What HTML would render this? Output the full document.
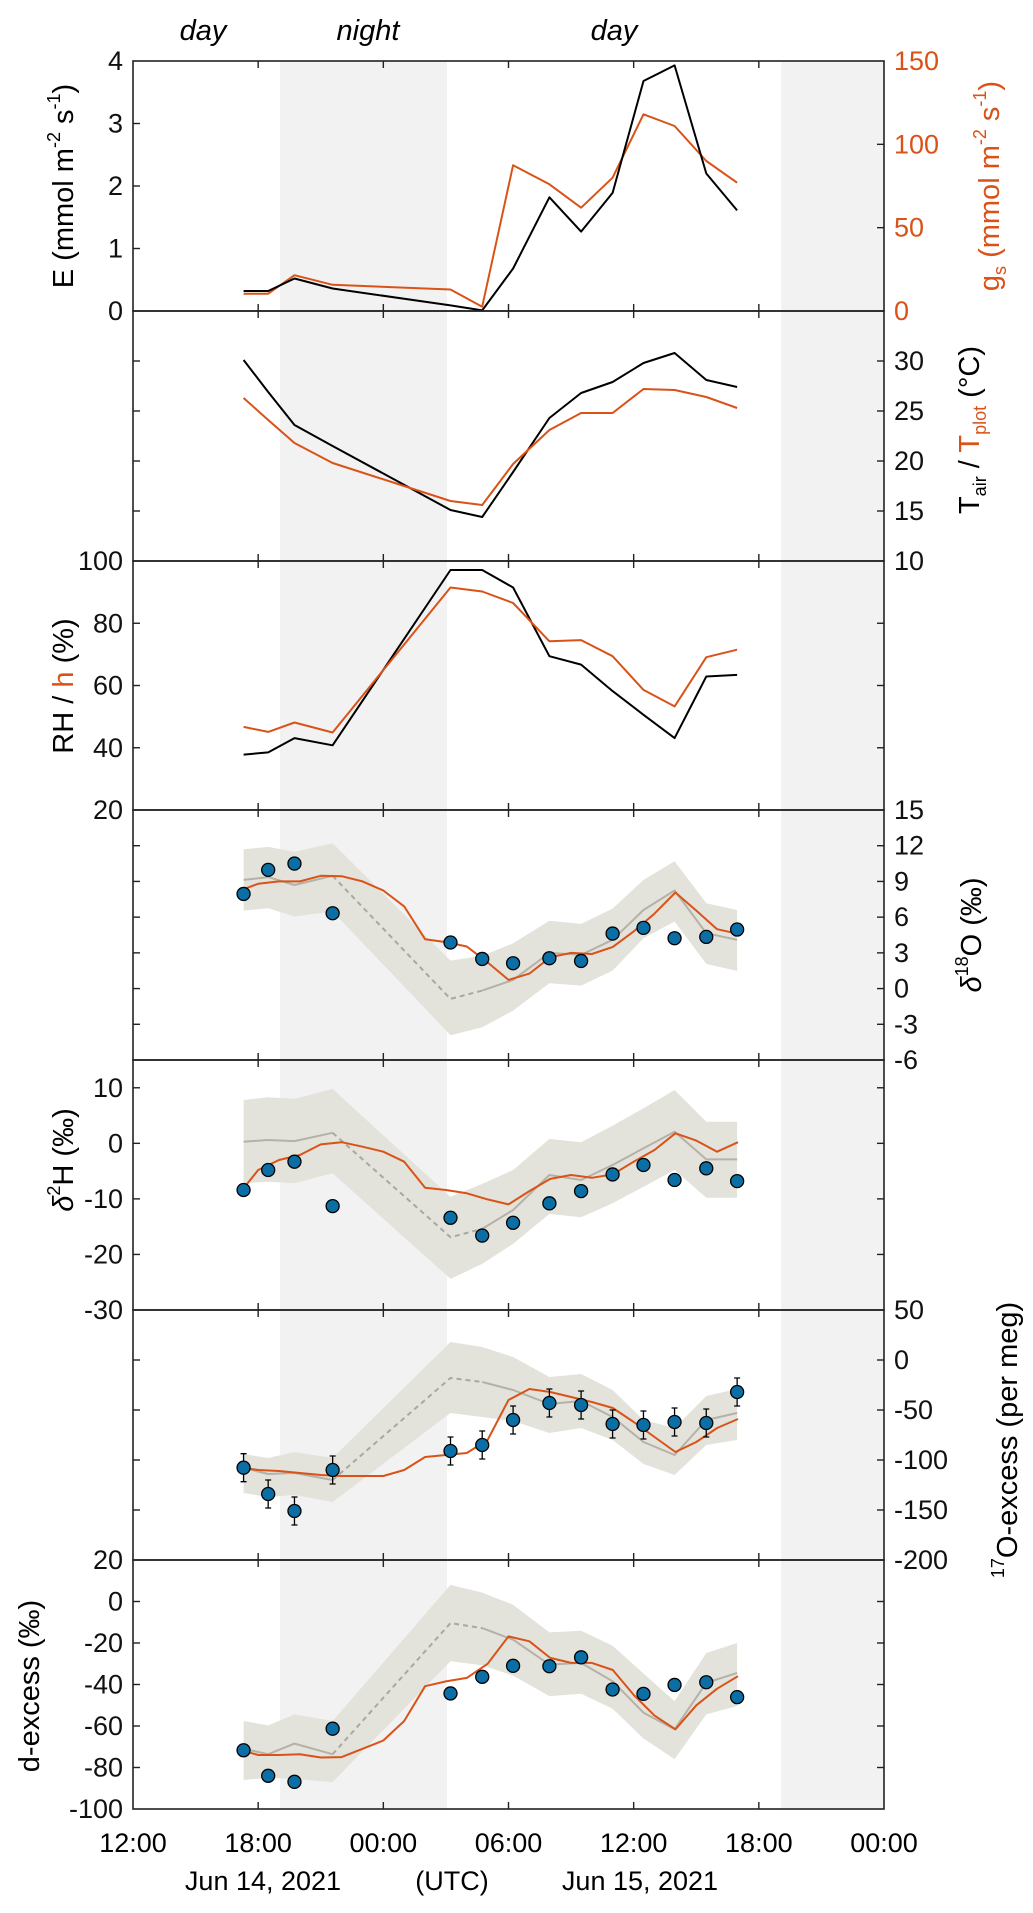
<!DOCTYPE html>
<html><head><meta charset="utf-8"><style>
html,body{margin:0;padding:0;background:#fff;}
svg{display:block;font-family:"Liberation Sans",Arial,sans-serif;}
</style></head><body>
<svg id="fig" width="1033" height="1913" viewBox="0 0 1033 1913" xmlns="http://www.w3.org/2000/svg"></svg>
<script>
// ---------- data ----------
const tObs = [5.3,6.48,7.74,9.57,15.22,16.74,18.22,19.96,21.48,22.99,24.47,25.96,27.48,28.96];
const tMod = [5.3,6,7,8,9,10,11,12,13,14,15,16,17,18,19,20,21,22,23,24,25,26,27,28,29];
const eFlux = [0.32,0.32,0.52,0.36,0.09,0.01,0.68,1.82,1.27,1.89,3.68,3.93,2.2,1.61];
const gsCond = [10.4,10.4,21.5,15.7,12.9,2.6,87.5,76,62,80,118,111,90,77];
const tAir = [30.1,26.9,23.6,21.5,15.1,14.4,18.9,24.3,26.8,27.9,29.8,30.8,28.1,27.4];
const tPlot = [26.3,24.1,21.8,19.8,16.0,15.6,19.7,23.1,24.8,24.8,27.2,27.1,26.4,25.3];
const rhAir = [37.8,38.5,43.1,40.8,97.1,97.1,91.5,69.4,66.7,58.2,50.6,43.1,62.9,63.4];
const hLeaf = [46.7,45.1,48.1,44.9,91.5,90.2,86.5,74.2,74.6,69.4,58.6,53.3,69.1,71.5];

const d18Obs = [7.95,9.97,10.5,6.33,3.87,2.49,2.13,2.55,2.32,4.62,5.1,4.23,4.34,4.96];
const d18Mod = [8.35,8.8,9.0,9.0,9.47,9.44,9.0,8.24,6.9,4.15,3.9,3.53,2.2,0.73,1.26,2.63,3.0,2.9,3.5,4.8,6.3,8.07,6.55,4.99,4.6];
const d18Grey = [9.13,9.36,8.7,9.47,-0.87,-0.17,0.73,3.0,2.83,4.1,6.6,8.24,4.65,4.1];
const d18Hi = [11.7,11.9,11.5,12.2,2.35,2.75,3.8,5.7,5.43,6.72,9.13,10.7,7.17,6.6];
const d18Lo = [6.55,6.75,6.05,6.47,-3.92,-3.25,-1.85,0.45,0.25,1.51,4.23,5.63,2.07,1.48];

const d2Obs = [-8.4,-4.8,-3.3,-11.3,-13.4,-16.6,-14.3,-10.8,-8.6,-5.6,-3.9,-6.6,-4.5,-6.8];
const d2Mod = [-8.1,-4.8,-3.0,-2.1,-0.2,0.2,-0.6,-1.5,-3.3,-8.0,-8.4,-9.0,-10.1,-11.0,-8.6,-6.4,-5.7,-6.2,-5.6,-3.3,-1.2,1.8,0.5,-1.5,0.2];
const d2Grey = [0.3,0.6,0.4,1.9,-16.9,-15.4,-12,-5.7,-6.6,-3.9,-0.9,2.1,-2.9,-2.9];
const d2Hi = [7.8,8.3,8.0,9.8,-9.6,-7.3,-4.8,0.8,0.2,3.2,6.3,9.6,3.9,3.9];
const d2Lo = [-7.2,-6.9,-7.2,-5.4,-24.4,-21.7,-18.1,-12.7,-13.3,-10.8,-7.8,-4.8,-9.8,-9.8];

const o17Obs = [-107.7,-134,-151,-110,-91,-85,-60,-43,-45,-64,-65,-62,-63,-32];
const o17Err = [14,14,14,14,14,14,14,14,14,14,14,14,14,14];
const o17Mod = [-108,-110,-111,-113,-115,-116,-116,-116,-110,-97,-95,-93,-80,-40,-29,-32,-37,-42,-48,-62,-77,-92,-82,-68,-59];
const o17Grey = [-108,-114,-113,-120,-18,-22,-30,-44,-41,-57,-82,-95,-60,-53];
const o17Hi = [-94,-98,-92,-98,18,13,3,-17,-14,-30,-60,-68,-36,-29];
const o17Lo = [-133,-137,-135,-142,-53,-57,-61,-73,-68,-80,-104,-115,-85,-80];

const dexObs = [-71.7,-84,-86.9,-61.3,-44.3,-36.3,-31,-31.2,-26.9,-42.4,-44.5,-40.2,-38.9,-46.1];
const dexMod = [-72,-74,-74,-73.6,-75.2,-75,-71,-67,-57.6,-40.8,-38.5,-36.8,-30,-16.8,-19.2,-27.2,-29.6,-29.6,-33,-45,-55,-61.6,-50,-42,-36];
const dexGrey = [-71,-73.6,-68.5,-73.6,-10.4,-12.8,-18.4,-30.4,-29.6,-38.4,-53.6,-61.6,-39.2,-34.4];
const dexHi = [-57.6,-59.7,-54.4,-57.6,8,4.3,-1.6,-14.9,-14.1,-21.3,-34.7,-48,-24.8,-20];
const dexLo = [-86,-85,-85.6,-87,-28.8,-30.7,-35.7,-45.6,-44.5,-51.7,-66,-76,-54.4,-50.4];

const xTickLabels = ["12:00","18:00","00:00","06:00","12:00","18:00","00:00"];

// ---------- layout ----------
const NS = "http://www.w3.org/2000/svg";
const svg = document.getElementById('fig');
const L = 133, R = 884;
const P = [61,311,561,810,1060,1310,1560,1809];
const RED = "#d95319", BLUE = "#0b6fa6";
const TFS = 27;
function X(h){ return L + h*(R-L)/36; }
function Ysc(i, mn, mx){ const t=P[i], b=P[i+1]; return v => b - (v-mn)/(mx-mn)*(b-t); }
function mk(tag, attrs, parent){ const e=document.createElementNS(NS,tag); for(const k in attrs) e.setAttribute(k,attrs[k]); (parent||svg).appendChild(e); return e; }
function txt(s, x, y, opts, parent){ const e=mk('text',Object.assign({x:x,y:y,'font-size':TFS,'dominant-baseline':'central'},opts||{}),parent); e.textContent=s; return e; }
function pathD(ts, vs, y){ return ts.map((t,i)=>(i?'L':'M')+X(t).toFixed(1)+','+y(vs[i]).toFixed(1)).join(''); }

let s1 = mk('rect',{x:X(7.05),y:P[0],width:X(15.05)-X(7.05),height:P[7]-P[0],fill:'#f2f2f2'});


let s2 = mk('rect',{x:X(31.07),y:P[0],width:R-X(31.07),height:P[7]-P[0],fill:'#f2f2f2'});



function line(ts, vs, y, color, w, name, dash){
  const e = mk('path',{d:pathD(ts,vs,y),fill:'none',stroke:color,'stroke-width':w,'stroke-linejoin':'round'});
  if(dash) e.setAttribute('stroke-dasharray',dash);
  
  
  return e;
}
function band(ts, hi, lo, y, name){
  let d = ts.map((t,i)=>(i?'L':'M')+X(t).toFixed(1)+','+y(hi[i]).toFixed(1)).join('');
  for(let i=ts.length-1;i>=0;i--) d += 'L'+X(ts[i]).toFixed(1)+','+y(lo[i]).toFixed(1);
  const e = mk('path',{d:d+'Z',fill:'#e3e3dc'});
  
  
}
function greyLine(vs, y, name){
  line(tObs.slice(0,4), vs.slice(0,4), y, '#b5b1a7', 2, name+'-day1');
  line(tObs.slice(3,6), vs.slice(3,6), y, '#aaa79f', 2, name+'-night', '5,4');
  line(tObs.slice(5), vs.slice(5), y, '#b5b1a7', 2, name+'-day2');
}
function dots(vs, y, name, err){
  vs.forEach((v,i)=>{
    if(err){
      const eb = mk('path',{d:`M${X(tObs[i])},${y(v+err[i])}V${y(v-err[i])}M${X(tObs[i])-3},${y(v+err[i])}h6M${X(tObs[i])-3},${y(v-err[i])}h6`,stroke:'#000','stroke-width':1.3,fill:'none'});
      
      
    }
    const c = mk('circle',{cx:X(tObs[i]),cy:y(v),r:6.5,fill:BLUE,stroke:'#000','stroke-width':1.3});
    
    
  });
}

const yE = Ysc(0,0,4), yG = Ysc(0,0,150);
line(tObs,gsCond,yG,RED,2,'gs-line');
line(tObs,eFlux,yE,'#000',2,'transpiration-line');
const yT = Ysc(1,10,35);
line(tObs,tAir,yT,'#000',2,'tair-line');
line(tObs,tPlot,yT,RED,2,'tplot-line');
const yRH = Ysc(2,20,100);
line(tObs,rhAir,yRH,'#000',2,'rh-line');
line(tObs,hLeaf,yRH,RED,2,'h-line');
const y18 = Ysc(3,-6,15);
band(tObs,d18Hi,d18Lo,y18,'d18o-uncertainty-band');
greyLine(d18Grey,y18,'d18o-grey-model');
line(tMod,d18Mod,y18,RED,2,'d18o-model-line');
dots(d18Obs,y18,'d18o-observation');
const y2 = Ysc(4,-30,15);
band(tObs,d2Hi,d2Lo,y2,'d2h-uncertainty-band');
greyLine(d2Grey,y2,'d2h-grey-model');
line(tMod,d2Mod,y2,RED,2,'d2h-model-line');
dots(d2Obs,y2,'d2h-observation');
const y17 = Ysc(5,-200,50);
band(tObs,o17Hi,o17Lo,y17,'o17-uncertainty-band');
greyLine(o17Grey,y17,'o17-grey-model');
line(tMod,o17Mod,y17,RED,2,'o17-model-line');
dots(o17Obs,y17,'o17-observation',o17Err);
const yD = Ysc(6,-100,20);
band(tObs,dexHi,dexLo,yD,'dexcess-uncertainty-band');
greyLine(dexGrey,yD,'dexcess-grey-model');
line(tMod,dexMod,yD,RED,2,'dexcess-model-line');
dots(dexObs,yD,'dexcess-observation');

for(let i=0;i<7;i++){
  const f = mk('rect',{x:L,y:P[i],width:R-L,height:P[i+1]-P[i],fill:'none',stroke:'#222','stroke-width':1.6});
  
  
  for(let h=6;h<36;h+=6){
    mk('path',{d:`M${X(h)},${P[i]}v7M${X(h)},${P[i+1]}v-7`,stroke:'#222','stroke-width':1.4});
  }
}
function yTicks(i,mn,mx,vals,side){
  const y = Ysc(i,mn,mx);
  vals.forEach(v=>{
    const yy=y(v);
    if(side==='L'||side==='B') mk('path',{d:`M${L},${yy}h7`,stroke:'#222','stroke-width':1.4});
    if(side==='R'||side==='B') mk('path',{d:`M${R},${yy}h-7`,stroke:'#222','stroke-width':1.4});
  });
}
function yLabels(i,mn,mx,vals,side,color){
  const y = Ysc(i,mn,mx);
  vals.forEach(v=>{
    const t = side==='L' ? txt(String(v),123,y(v),{'text-anchor':'end',fill:color||'#111'}) : txt(String(v),894,y(v),{'text-anchor':'start',fill:color||'#111'});
    
    
  });
}
yTicks(0,0,4,[1,2,3],'L'); yTicks(0,0,150,[50,100],'R');
yLabels(0,0,4,[0,1,2,3,4],'L'); yLabels(0,0,150,[0,50,100,150],'R',RED);
yTicks(1,10,35,[15,20,25,30],'B'); yLabels(1,10,35,[10,15,20,25,30],'R');
yTicks(2,20,100,[40,60,80],'B'); yLabels(2,20,100,[20,40,60,80,100],'L');
yTicks(3,-6,15,[-3,0,3,6,9,12],'B'); yLabels(3,-6,15,[-6,-3,0,3,6,9,12,15],'R');
yTicks(4,-30,15,[-20,-10,0,10],'B'); yLabels(4,-30,15,[-30,-20,-10,0,10],'L');
yTicks(5,-200,50,[-150,-100,-50,0],'B'); yLabels(5,-200,50,[-200,-150,-100,-50,0,50],'R');
yTicks(6,-100,20,[-80,-60,-40,-20,0],'B'); yLabels(6,-100,20,[-100,-80,-60,-40,-20,0,20],'L');

xTickLabels.forEach((s,k)=>{
  const t = txt(s, X(k*6), 1843, {'text-anchor':'middle'});
  
  
});
[["Jun 14, 2021",263,'date-label-jun14'],["(UTC)",452,'timezone-label'],["Jun 15, 2021",640,'date-label-jun15']].forEach(a=>{
  const t = txt(a[0], a[1], 1881, {'text-anchor':'middle'});
  
  
});
[["day",203,'day-label-1'],["night",368,'night-label'],["day",614,'day-label-2']].forEach(a=>{
  const t = txt(a[0], a[1], 31, {'text-anchor':'middle','font-style':'italic','font-size':29});
  
  
});

function title(html, x, y, name, rot){
  const g = mk('text',{x:0,y:0,'font-size':29,'text-anchor':'middle','dominant-baseline':'central',transform:`translate(${x},${y}) rotate(${rot||-90})`});
  g.innerHTML = html;
  
  
}
const sup = s => `<tspan baseline-shift="super" font-size="18">${s}</tspan>`;
const sub = s => `<tspan baseline-shift="sub" font-size="18">${s}</tspan>`;
title(`E (mmol m${sup('-2')} s${sup('-1')})`, 64, 186, 'y-axis-title-e');
title(`<tspan fill="${RED}">g${sub('s')} (mmol m${sup('-2')} s${sup('-1')})</tspan>`, 990, 186, 'y-axis-title-gs');
title(`T${sub('air')} / <tspan fill="${RED}">T${sub('plot')}</tspan> (°C)`, 970, 430, 'y-axis-title-temperature');
title(`RH / <tspan fill="${RED}">h</tspan> (%)`, 64, 686, 'y-axis-title-rh');
title(`<tspan font-style="italic">δ</tspan>${sup('18')}O (‰)`, 972, 935, 'y-axis-title-d18o');
title(`<tspan font-style="italic">δ</tspan>${sup('2')}H (‰)`, 64, 1160, 'y-axis-title-d2h');
title(`${sup('17')}O-excess (per meg)`, 1008, 1440, 'y-axis-title-o17excess');
title(`d-excess (‰)`, 30, 1686, 'y-axis-title-dexcess');
</script>
</body></html>
